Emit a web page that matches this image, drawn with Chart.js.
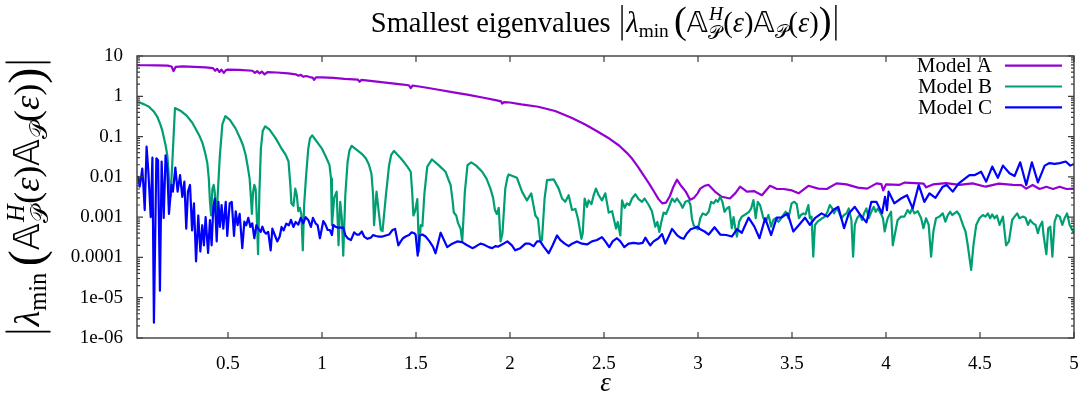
<!DOCTYPE html>
<html>
<head>
<meta charset="utf-8">
<script src="https://cdn.jsdelivr.net/npm/chart.js@4.4.0/dist/chart.umd.min.js"></script>
<style>
  html, body { margin: 0; padding: 0; background: #fff; }
</style>
</head>
<body>
<canvas id="eigChart" width="1079" height="401"></canvas>
<script>
// axis ticks
const xTicks = [0.5, 1, 1.5, 2, 2.5, 3, 3.5, 4, 4.5, 5];
const xTickLabels = ['0.5', '1', '1.5', '2', '2.5', '3', '3.5', '4', '4.5', '5'];
const yTicks = [1e-6, 1e-5, 1e-4, 1e-3, 1e-2, 1e-1, 1, 10];
const yTickLabels = ['1e-06', '1e-05', '0.0001', '0.001', '0.01', '0.1', '1', '10'];

const seriesNames = ['Model A', 'Model B', 'Model C'];

// [epsilon, |lambda_min|]
const modelA = [
  [0.016,5.9],[0.06,5.9],[0.12,5.85],[0.18,5.75],[0.2,5.5],[0.21,4.2],[0.222,5.4],[0.26,5.5],
  [0.32,5.4],[0.38,5.2],[0.42,5.0],[0.432,4.3],[0.442,4.8],[0.455,4.0],[0.465,4.6],[0.478,3.8],
  [0.49,4.5],[0.5,4.6],[0.56,4.5],[0.63,4.3],[0.643,3.8],[0.655,4.2],[0.668,3.7],[0.68,4.1],
  [0.695,3.5],[0.71,4.0],[0.76,3.9],[0.82,3.7],[0.86,3.5],[0.875,3.25],[0.888,3.4],[0.9,3.05],
  [0.915,3.2],[0.935,3.0],[0.95,2.9],[0.958,2.55],[0.968,2.95],[1.0,2.95],[1.06,2.85],[1.12,2.7],
  [1.19,2.6],[1.2,2.3],[1.21,2.55],[1.28,2.35],[1.35,2.15],[1.42,1.98],[1.462,1.88],[1.472,1.6],
  [1.482,1.85],[1.55,1.65],[1.62,1.45],[1.7,1.25],[1.78,1.08],[1.86,0.92],[1.93,0.79],[1.952,0.75],
  [1.958,0.66],[1.968,0.72],[2.0,0.7],[2.06,0.63],[2.15,0.55],[2.24,0.43],[2.33,0.29],[2.4,0.2],
  [2.47,0.13],[2.53,0.088],[2.58,0.06],[2.62,0.04],[2.65,0.028],[2.68,0.018],[2.71,0.011],[2.74,0.0068],
  [2.765,0.0044],[2.79,0.0028],[2.81,0.0022],[2.83,0.0023],[2.85,0.0033],[2.87,0.0058],[2.888,0.0085],[2.91,0.006],
  [2.935,0.0043],[2.958,0.0027],[2.978,0.003],[2.998,0.0039],[3.012,0.0051],[3.035,0.006],[3.057,0.0063],[3.09,0.0043],
  [3.127,0.0032],[3.17,0.0029],[3.2,0.004],[3.224,0.0057],[3.26,0.0043],[3.3,0.0044],[3.34,0.0035],[3.383,0.006],
  [3.42,0.005],[3.455,0.005],[3.5,0.0046],[3.535,0.0039],[3.587,0.006],[3.64,0.0051],[3.685,0.005],[3.737,0.0069],
  [3.79,0.0065],[3.85,0.0054],[3.9,0.0051],[3.95,0.0069],[3.975,0.0066],[3.985,0.0046],[4.0,0.0065],[4.07,0.0063],
  [4.1,0.0072],[4.18,0.0069],[4.2,0.0068],[4.213,0.0055],[4.25,0.0065],[4.32,0.007],[4.39,0.0063],[4.46,0.0069],
  [4.53,0.0057],[4.6,0.0068],[4.675,0.0063],[4.72,0.0062],[4.746,0.0051],[4.78,0.0063],[4.817,0.005],[4.853,0.0057],
  [4.888,0.005],[4.924,0.0057],[4.96,0.005],[5.0,0.0051]
];

const modelB = [
  [0.016,0.72],[0.03,0.7],[0.055,0.63],[0.08,0.55],[0.105,0.42],[0.124,0.31],[0.14,0.2],[0.15,0.145],
  [0.16,0.09],[0.168,0.061],[0.177,0.035],[0.183,0.015],[0.188,0.0063],[0.195,0.0033],[0.218,0.51],
  [0.25,0.43],[0.28,0.33],[0.31,0.22],[0.33,0.15],[0.35,0.1],[0.364,0.07],[0.378,0.04],[0.39,0.022],
  [0.398,0.009],[0.404,0.0025],[0.41,0.0011],[0.417,0.005],[0.424,0.0063],[0.43,0.004],[0.436,0.0011],[0.443,0.0022],
  [0.456,0.03],[0.47,0.2],[0.486,0.32],
  [0.51,0.26],[0.54,0.16],[0.565,0.09],[0.58,0.06],[0.594,0.035],[0.605,0.018],[0.615,0.009],[0.622,0.003],
  [0.627,0.0012],[0.633,0.004],[0.64,0.0063],[0.647,0.005],[0.653,0.0011],[0.66,0.00012],[0.667,0.004],[0.675,0.05],
  [0.685,0.14],[0.698,0.18],
  [0.72,0.15],[0.754,0.09],[0.78,0.055],[0.807,0.035],[0.822,0.024],[0.832,0.006],[0.837,0.0022],[0.848,0.0019],
  [0.858,0.0051],[0.866,0.0035],[0.874,0.0014],[0.882,0.0017],[0.89,0.0012],[0.898,0.00015],[0.905,0.002],[0.915,0.01],
  [0.927,0.05],[0.936,0.09],[0.948,0.107],
  [0.968,0.08],[0.985,0.062],[1.0,0.05],[1.02,0.032],[1.04,0.0195],[1.048,0.009],[1.053,0.00063],[1.065,0.003],
  [1.078,0.0043],[1.088,0.0002],[1.097,0.0024],[1.106,0.0009],[1.113,0.00011],[1.124,0.0035],[1.136,0.023],[1.146,0.045],
  [1.158,0.059],
  [1.19,0.045],[1.215,0.036],[1.233,0.029],[1.25,0.02],[1.263,0.012],[1.272,0.0035],[1.277,0.00063],[1.29,0.0043],
  [1.3,0.0016],[1.313,0.00048],[1.322,0.00045],[1.34,0.0035],[1.357,0.0195],[1.368,0.035],[1.383,0.044],
  [1.419,0.029],[1.44,0.022],[1.454,0.018],[1.472,0.0134],[1.48,0.004],[1.486,0.0011],[1.495,0.0014],[1.507,0.0028],
  [1.516,0.00014],[1.525,0.00063],[1.534,0.0006],[1.545,0.004],[1.56,0.018],[1.585,0.027],
  [1.62,0.0195],[1.657,0.0134],[1.675,0.008],[1.684,0.0063],[1.695,0.0025],[1.701,0.0013],[1.714,0.0011],[1.724,0.0007],
  [1.737,0.00052],[1.746,0.00025],[1.76,0.0043],[1.774,0.0195],[1.794,0.023],
  [1.82,0.019],[1.852,0.0134],[1.875,0.009],[1.896,0.0051],[1.91,0.003],[1.92,0.0015],[1.93,0.0012],[1.94,0.0017],
  [1.95,0.00025],[1.96,0.0004],[1.975,0.0051],[1.986,0.0095],[1.993,0.0115],
  [2.037,0.0095],[2.064,0.0043],[2.09,0.0026],[2.113,0.0039],[2.135,0.0011],[2.149,0.0009],[2.161,0.00025],[2.17,0.00027],
  [2.184,0.0029],[2.197,0.0083],[2.232,0.0087],[2.259,0.0051],[2.277,0.0029],[2.294,0.0024],[2.312,0.0035],[2.33,0.0015],
  [2.348,0.0016],[2.362,0.0009],[2.38,0.00029],[2.387,0.0004],[2.397,0.0029],[2.41,0.0018],[2.418,0.0026],[2.433,0.0021],
  [2.445,0.0035],[2.457,0.0051],[2.472,0.0035],[2.489,0.0026],[2.507,0.0039],[2.525,0.0013],[2.543,0.0014],[2.564,0.00052],
  [2.573,0.00076],[2.587,0.00035],[2.596,0.0026],[2.61,0.0017],[2.622,0.0022],[2.635,0.002],[2.649,0.0029],[2.667,0.0037],
  [2.684,0.0028],[2.702,0.0024],[2.716,0.0029],[2.738,0.002],[2.755,0.0014],[2.773,0.00058],[2.784,0.00076],[2.794,0.00043],
  [2.805,0.00076],[2.817,0.0013],[2.83,0.0012],[2.844,0.0017],[2.862,0.0029],[2.876,0.0024],[2.888,0.0029],[2.906,0.0022],
  [2.918,0.0017],[2.933,0.0024],[2.95,0.0026],[2.96,0.002],[2.968,0.0009],[2.977,0.00063],[2.986,0.00055],[3.0,0.0005],
  [3.012,0.00094],[3.025,0.00124],[3.042,0.00113],[3.057,0.00136],[3.07,0.0024],[3.083,0.0022],[3.095,0.00266],[3.106,0.0024],
  [3.118,0.0032],[3.13,0.0024],[3.141,0.00136],[3.154,0.00165],[3.166,0.0018],[3.18,0.00053],[3.189,0.001],[3.198,0.00055],
  [3.207,0.00033],[3.219,0.00077],[3.233,0.00103],[3.247,0.00113],[3.26,0.00124],[3.272,0.00136],[3.283,0.00165],[3.295,0.00266],
  [3.307,0.00094],[3.318,0.0024],[3.33,0.002],[3.339,0.00136],[3.348,0.00094],[3.36,0.00077],[3.375,0.00113],[3.389,0.00058],
  [3.401,0.00085],[3.413,0.00094],[3.428,0.00077],[3.442,0.00094],[3.454,0.00113],[3.466,0.00136],[3.481,0.00094],[3.498,0.0022],
  [3.512,0.0024],[3.525,0.0021],[3.537,0.00094],[3.548,0.00113],[3.56,0.00124],[3.572,0.00117],[3.587,0.002],[3.595,0.00094],
  [3.604,0.00103],[3.613,0.000105],[3.622,0.00064],[3.636,0.00077],[3.648,0.00085],[3.661,0.00094],[3.675,0.00103],[3.689,0.00136],
  [3.701,0.002],[3.714,0.00165],[3.724,0.00124],[3.737,0.00165],[3.749,0.00136],[3.763,0.00094],[3.777,0.00113],[3.79,0.00124],
  [3.802,0.00165],[3.816,0.00085],[3.825,0.000105],[3.834,0.00064],[3.846,0.00094],[3.86,0.00113],[3.873,0.00085],[3.883,0.00124],
  [3.896,0.00165],[3.908,0.00094],[3.922,0.00136],[3.935,0.0018],[3.945,0.00136],[3.958,0.00165],[3.972,0.00124],[3.984,0.00094],
  [3.993,0.00044],[4.004,0.00077],
  [4.009,0.00094],[4.027,0.00136],[4.036,0.0002],[4.05,0.00044],[4.062,0.00085],[4.08,0.00103],[4.098,0.00103],[4.115,0.0015],
  [4.128,0.00124],[4.139,0.00165],[4.151,0.00124],[4.169,0.0014],[4.187,0.00094],[4.199,0.00053],[4.213,0.00094],[4.227,0.00064],
  [4.24,0.000105],[4.252,0.00044],[4.266,0.00094],[4.284,0.00103],[4.302,0.00124],[4.316,0.00077],[4.329,0.00113],[4.341,0.00136],
  [4.352,0.00113],[4.364,0.00124],[4.377,0.00138],[4.391,0.00113],[4.409,0.00064],[4.423,0.00044],[4.435,0.0002],[4.453,0.000049],
  [4.465,0.0002],[4.48,0.00064],[4.497,0.00094],[4.515,0.00113],[4.529,0.00103],[4.542,0.00124],[4.554,0.00094],[4.565,0.00117],
  [4.577,0.00094],[4.59,0.0011],[4.604,0.00064],[4.622,0.00103],[4.639,0.0002],[4.654,0.00025],[4.671,0.00085],[4.684,0.00103],
  [4.698,0.00124],[4.71,0.00094],[4.728,0.00103],[4.742,0.00097],[4.755,0.00064],[4.767,0.00085],[4.782,0.0007],[4.796,0.00064],
  [4.808,0.0004],[4.817,0.00058],[4.831,0.00077],[4.838,0.00036],[4.853,0.00012],[4.863,0.00053],[4.874,0.00058],[4.885,0.000105],
  [4.897,0.00077],[4.909,0.00113],[4.924,0.00103],[4.938,0.00064],[4.95,0.00094],[4.963,0.00124],[4.977,0.00064],[4.986,0.00053],
  [5.0,0.0004]
];

const modelC = [
  [0.016,0.0095],[0.023,0.01],[0.03,0.0057],[0.037,0.009],[0.044,0.016],[0.05,0.006],[0.057,0.0015],[0.067,0.056],
  [0.076,0.0146],[0.089,0.001],[0.098,0.03],[0.106,0.0000024],[0.119,0.029],[0.128,0.026],[0.138,0.000015],[0.147,0.024],
  [0.158,0.00096],[0.168,0.034],[0.177,0.016],[0.186,0.0012],[0.199,0.0063],[0.207,0.0043],[0.22,0.017],[0.232,0.0043],
  [0.245,0.011],[0.257,0.0032],[0.268,0.0076],[0.278,0.00052],[0.287,0.0043],[0.298,0.0063],[0.309,0.00047],[0.319,0.0022],
  [0.33,0.00008],[0.342,0.0011],[0.353,0.00014],[0.363,0.00063],[0.372,0.0002],[0.381,0.001],[0.394,0.00013],[0.404,0.00085],
  [0.413,0.0002],[0.422,0.0018],[0.43,0.0029],[0.44,0.00025],[0.449,0.0024],[0.457,0.00057],[0.466,0.002],[0.475,0.00052],
  [0.488,0.0024],[0.496,0.00034],[0.509,0.0022],[0.52,0.0024],[0.532,0.00034],[0.541,0.0014],[0.551,0.00063],[0.562,0.0012],
  [0.576,0.00017],[0.587,0.00077],[0.597,0.00063],[0.608,0.00096],[0.619,0.00057],[0.629,0.0007],[0.64,0.0003],[0.651,0.00063],
  [0.661,0.00052],[0.674,0.00043],[0.683,0.00058],[0.693,0.00043],[0.703,0.00039],[0.714,0.00043],[0.727,0.00015],[0.736,0.00052],
  [0.75,0.00035],[0.762,0.00025],[0.775,0.00033],[0.785,0.00057],[0.796,0.00047],[0.81,0.00069],[0.824,0.00063],[0.835,0.00086],
  [0.848,0.00057],[0.86,0.00076],[0.874,0.00065],[0.887,0.00096],[0.9,0.0007],[0.913,0.001],[0.927,0.00085],[0.941,0.00057],
  [0.952,0.00096],[0.966,0.0007],[0.977,0.00063],
  [0.989,0.0003],[1.007,0.0008],[1.018,0.00066],[1.03,0.00048],[1.042,0.00048],[1.053,0.00036],[1.06,0.00064],[1.071,0.00058],
  [1.083,0.00055],[1.1,0.00055],[1.113,0.00055],[1.124,0.00036],[1.136,0.0003],[1.154,0.00027],[1.171,0.00042],[1.184,0.00037],
  [1.198,0.00037],[1.212,0.00044],[1.224,0.00033],[1.242,0.00029],[1.26,0.00031],[1.272,0.00036],[1.286,0.00034],[1.304,0.00033],
  [1.322,0.00033],[1.339,0.00035],[1.357,0.00037],[1.375,0.00048],[1.389,0.00051],[1.406,0.0002],[1.419,0.00025],[1.431,0.0003],
  [1.445,0.00033],[1.463,0.00036],[1.477,0.00042],[1.49,0.0004],[1.498,0.00037],[1.509,0.00011],[1.519,0.00035],[1.534,0.00037],
  [1.551,0.00033],[1.572,0.00025],[1.59,0.000185],[1.604,0.000127],[1.631,0.00041],[1.666,0.00018],[1.693,0.00022],[1.719,0.00025],
  [1.745,0.00024],[1.772,0.0002],[1.8,0.00017],[1.816,0.000185],[1.843,0.00022],[1.86,0.00021],[1.887,0.00018],[1.905,0.00017],
  [1.922,0.00019],[1.936,0.000185],[1.95,0.0002],[1.966,0.00022],[1.986,0.00025],
  [2.01,0.0002],[2.028,0.00015],[2.055,0.00017],[2.082,0.00022],[2.103,0.00022],[2.126,0.00019],[2.144,0.00025],[2.161,0.00025],
  [2.179,0.000185],[2.206,0.000127],[2.227,0.0002],[2.25,0.00035],[2.268,0.00027],[2.291,0.00022],[2.312,0.00019],[2.33,0.00022],
  [2.356,0.00025],[2.383,0.00022],[2.41,0.00021],[2.436,0.00025],[2.463,0.00027],[2.489,0.00032],[2.507,0.00025],[2.528,0.00018],
  [2.546,0.00025],[2.569,0.0003],[2.587,0.00025],[2.608,0.00018],[2.631,0.00022],[2.658,0.00023],[2.684,0.00022],[2.706,0.00023],
  [2.72,0.00031],[2.732,0.00025],[2.746,0.0002],[2.764,0.00025],[2.79,0.0003],[2.809,0.00038],[2.826,0.00022],[2.844,0.00033],
  [2.862,0.00051],[2.888,0.00036],[2.906,0.00031],[2.924,0.00029],[2.942,0.0004],[2.961,0.0005],[2.977,0.00053],[2.996,0.00058],
  [3.012,0.0005],[3.035,0.00044],[3.057,0.00037],[3.088,0.00056],[3.118,0.00037],[3.15,0.00036],[3.18,0.00033],[3.207,0.0005],
  [3.233,0.00041],[3.269,0.00097],[3.3,0.00058],[3.327,0.0003],[3.357,0.00094],[3.389,0.00036],[3.419,0.00097],[3.445,0.00099],
  [3.477,0.00124],[3.507,0.00044],[3.537,0.00064],[3.569,0.00097],[3.595,0.00064],[3.622,0.00094],[3.657,0.00124],[3.689,0.00103],
  [3.719,0.0015],[3.746,0.0018],[3.777,0.00053],[3.802,0.00124],[3.834,0.0018],[3.864,0.00113],[3.896,0.00074],[3.922,0.0024],
  [3.949,0.0024],[3.979,0.00124],[3.995,0.0032],[4.005,0.0015],[4.014,0.0043],[4.044,0.0022],[4.08,0.0029],[4.112,0.0035],
  [4.142,0.00165],[4.174,0.0063],[4.204,0.0024],[4.231,0.0039],[4.263,0.003],[4.302,0.0057],[4.323,0.0063],[4.355,0.0043],
  [4.387,0.0069],[4.444,0.011],[4.47,0.011],[4.506,0.0134],[4.533,0.0076],[4.565,0.018],[4.595,0.0095],[4.622,0.019],
  [4.657,0.0123],[4.684,0.0105],[4.714,0.023],[4.746,0.0063],[4.776,0.023],[4.808,0.0073],[4.844,0.019],[4.87,0.022],
  [4.897,0.021],[4.924,0.022],[4.956,0.024],[4.98,0.019],[5.0,0.021]
];

const colors = ['#9400d3', '#009e73', '#0000ff'];

const SERIF = '"Liberation Serif", "DejaVu Serif", serif';
const MATH = '"DejaVu Sans", "DejaVu Serif", "Liberation Serif", serif';

// pieces of |lambda_min( A^H_P(eps) A_P(eps) )|
function eigTokens() {
  return [
    { bar: true },
    { s: 'λ', italic: true },
    { s: 'min', scale: 0.68, dy: 0.2 },
    { gap: 0.18 },
    { big: '(' },
    { s: '𝔸', family: MATH },
    { sup: 'H', sub: '𝒫' },
    { s: '(' },
    { s: 'ε', italic: true },
    { s: ')' },
    { s: '𝔸', family: MATH },
    { s: '𝒫', scale: 0.68, dy: 0.22, family: MATH },
    { s: '(' },
    { s: 'ε', italic: true },
    { s: ')' },
    { big: ')' },
    { bar: true }
  ];
}

function tokenFont(t, size) {
  const sz = size * (t.scale || 1);
  return (t.italic ? 'italic ' : '') + sz + 'px ' + (t.family || SERIF);
}

function tokenWidth(ctx, t, size) {
  if (t.gap) return t.gap * size;
  if (t.bar) return 0.3 * size;
  if (t.big) {
    ctx.font = (size * 1.35) + 'px ' + SERIF;
    return ctx.measureText(t.big).width;
  }
  if (t.sup) {
    ctx.font = 'italic ' + (size * 0.68) + 'px ' + SERIF;
    const w1 = ctx.measureText(t.sup).width;
    ctx.font = (size * 0.68) + 'px ' + MATH;
    const w2 = ctx.measureText(t.sub).width;
    return Math.max(w1, w2) + 0.05 * size;
  }
  ctx.font = tokenFont(t, size);
  return ctx.measureText(t.s).width;
}

function drawMath(ctx, tokens, size, cx, base) {
  const widths = tokens.map(t => tokenWidth(ctx, t, size));
  let x = cx - widths.reduce((a, b) => a + b, 0) / 2;
  ctx.textAlign = 'left';
  ctx.textBaseline = 'alphabetic';
  tokens.forEach((t, i) => {
    if (t.bar) {
      ctx.beginPath();
      ctx.lineWidth = 0.05 * size;
      ctx.moveTo(x + widths[i] / 2, base - 0.93 * size);
      ctx.lineTo(x + widths[i] / 2, base + 0.32 * size);
      ctx.stroke();
    } else if (t.big) {
      ctx.font = (size * 1.35) + 'px ' + SERIF;
      ctx.fillText(t.big, x, base + 0.07 * size);
    } else if (t.sup) {
      ctx.font = 'italic ' + (size * 0.68) + 'px ' + SERIF;
      ctx.fillText(t.sup, x + 0.04 * size, base - 0.42 * size);
      ctx.font = (size * 0.68) + 'px ' + MATH;
      ctx.fillText(t.sub, x, base + 0.25 * size);
    } else if (!t.gap) {
      ctx.font = tokenFont(t, size);
      ctx.fillText(t.s, x, base + (t.dy || 0) * size);
    }
    x += widths[i];
  });
}

// gnuplot-like frame: border, inward ticks, title, axis labels, key
const gnuFrame = {
  id: 'gnuFrame',
  afterDatasetsDraw(chart) {
    const { ctx, chartArea: a, scales: { x, y } } = chart;
    ctx.save();
    ctx.strokeStyle = '#3c3c3c';
    ctx.lineWidth = 1.2;
    ctx.beginPath();
    for (let k = -6; k < 1; k++) {
      for (let m = 2; m < 10; m++) {
        const py = y.getPixelForValue(m * Math.pow(10, k));
        ctx.moveTo(a.left, py); ctx.lineTo(a.left + 3, py);
        ctx.moveTo(a.right, py); ctx.lineTo(a.right - 3, py);
      }
    }
    yTicks.forEach(v => {
      const py = y.getPixelForValue(v);
      ctx.moveTo(a.left, py); ctx.lineTo(a.left + 6, py);
      ctx.moveTo(a.right, py); ctx.lineTo(a.right - 6, py);
    });
    xTicks.forEach(v => {
      const px = x.getPixelForValue(v);
      ctx.moveTo(px, a.bottom); ctx.lineTo(px, a.bottom - 6);
      ctx.moveTo(px, a.top); ctx.lineTo(px, a.top + 6);
    });
    ctx.stroke();
    ctx.lineWidth = 1.4;
    ctx.strokeRect(a.left, a.top, a.right - a.left, a.bottom - a.top);
    ctx.restore();
  },
  afterDraw(chart) {
    const { ctx, chartArea: a } = chart;
    const midX = (a.left + a.right) / 2;
    const midY = (a.top + a.bottom) / 2;
    ctx.save();
    ctx.fillStyle = '#000';
    ctx.strokeStyle = '#000';

    // title
    drawMath(ctx, [{ s: 'Smallest eigenvalues ' }].concat(eigTokens()), 28.5, midX, 31.5);

    // y label
    ctx.save();
    ctx.translate(39, midY);
    ctx.rotate(-Math.PI / 2);
    drawMath(ctx, eigTokens(), 36, 0, 0);
    ctx.restore();

    // x label
    ctx.font = 'italic 27px ' + SERIF;
    ctx.textAlign = 'center';
    ctx.textBaseline = 'alphabetic';
    ctx.fillText('ε', midX, 391);

    // key
    ctx.font = '21px ' + SERIF;
    ctx.textAlign = 'right';
    ctx.textBaseline = 'middle';
    seriesNames.forEach((name, i) => {
      const ry = 65.7 + 20.8 * i;
      ctx.fillStyle = '#000';
      ctx.fillText(name, 992, ry + 1);
      ctx.strokeStyle = colors[i];
      ctx.lineWidth = 2.2;
      ctx.beginPath();
      ctx.moveTo(1005, ry);
      ctx.lineTo(1062, ry);
      ctx.stroke();
    });
    ctx.restore();
  }
};

const tickFont = { family: SERIF, size: 19 };

new Chart(document.getElementById('eigChart'), {
  type: 'line',
  data: {
    datasets: [
      { label: seriesNames[0], data: modelA, borderColor: colors[0], order: 3 },
      { label: seriesNames[1], data: modelB, borderColor: colors[1], order: 2 },
      { label: seriesNames[2], data: modelC, borderColor: colors[2], order: 1 }
    ]
  },
  options: {
    responsive: false,
    animation: false,
    devicePixelRatio: 1,
    layout: { padding: { top: 56, right: 5, left: 0, bottom: 0 } },
    elements: {
      point: { radius: 0 },
      line: { borderWidth: 2.2, tension: 0, fill: false, borderJoinStyle: 'round' }
    },
    plugins: {
      legend: { display: false },
      title: { display: false },
      tooltip: { enabled: false }
    },
    scales: {
      x: {
        type: 'linear',
        min: 0.016,
        max: 5,
        grid: { display: false, drawTicks: false },
        border: { display: false },
        afterBuildTicks: s => { s.ticks = xTicks.map(v => ({ value: v })); },
        afterFit: s => { s.height = 63; s.paddingLeft = 0; s.paddingRight = 0; },
        ticks: {
          callback: (v, i) => xTickLabels[i],
          font: tickFont, color: '#000', padding: 15, autoSkip: false, maxRotation: 0
        }
      },
      y: {
        type: 'logarithmic',
        min: 1e-6,
        max: 10,
        grid: { display: false, drawTicks: false },
        border: { display: false },
        afterBuildTicks: s => { s.ticks = yTicks.map(v => ({ value: v })); },
        afterFit: s => { s.width = 137; s.paddingTop = 0; s.paddingBottom = 0; },
        ticks: {
          callback: (v, i) => yTickLabels[i],
          font: tickFont, color: '#000', padding: 14, autoSkip: false
        }
      }
    }
  },
  plugins: [gnuFrame]
});
</script>
</body>
</html>
